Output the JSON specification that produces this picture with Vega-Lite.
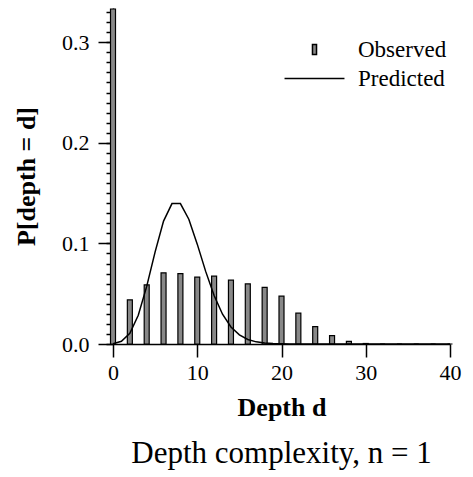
{
  "$schema": "https://vega.github.io/schema/vega-lite/v6.json",
  "width": 337,
  "height": 336,
  "autosize": {"type": "none"},
  "padding": {"left": 113, "top": 8, "right": 23, "bottom": 133},
  "background": "white",
  "config": {
    "view": {"stroke": null},
    "font": "Liberation Serif",
    "axis": {"grid": false, "domainColor": "black", "tickColor": "black", "labelColor": "black", "titleColor": "black", "domainWidth": 1.5, "tickWidth": 1.5, "labelFont": "Liberation Serif", "titleFont": "Liberation Serif"}
  },
  "title": {"text": "Depth complexity, n = 1", "orient": "bottom", "anchor": "middle", "fontSize": 31, "fontWeight": "normal", "font": "Liberation Serif", "color": "black", "offset": 19},
  "datasets": {
    "observed": [
      {"d": 0, "p": 0.333}, {"d": 2, "p": 0.0439}, {"d": 4, "p": 0.0588}, {"d": 6, "p": 0.0708},
      {"d": 8, "p": 0.0700}, {"d": 10, "p": 0.0664}, {"d": 12, "p": 0.0674}, {"d": 14, "p": 0.0634},
      {"d": 16, "p": 0.0598}, {"d": 18, "p": 0.0562}, {"d": 20, "p": 0.0475}, {"d": 22, "p": 0.0306},
      {"d": 24, "p": 0.0172}, {"d": 26, "p": 0.0083}, {"d": 28, "p": 0.0027}, {"d": 30, "p": 0.0005},
      {"d": 32, "p": 0}, {"d": 34, "p": 0}, {"d": 36, "p": 0}, {"d": 38, "p": 0}, {"d": 40, "p": 0}
    ],
    "predicted": [
      {"d": 0, "p": 0.00034}, {"d": 1, "p": 0.00268}, {"d": 2, "p": 0.01073}, {"d": 3, "p": 0.02863},
      {"d": 4, "p": 0.05725}, {"d": 5, "p": 0.0916}, {"d": 6, "p": 0.12214}, {"d": 7, "p": 0.13959},
      {"d": 8, "p": 0.13959}, {"d": 9, "p": 0.12408}, {"d": 10, "p": 0.09926}, {"d": 11, "p": 0.07219},
      {"d": 12, "p": 0.04813}, {"d": 13, "p": 0.02962}, {"d": 14, "p": 0.01692}, {"d": 15, "p": 0.00903},
      {"d": 16, "p": 0.00451}, {"d": 17, "p": 0.00212}, {"d": 18, "p": 0.00094}, {"d": 19, "p": 0.0004},
      {"d": 20, "p": 0.00016}, {"d": 21, "p": 0.00006}, {"d": 22, "p": 0.00002}, {"d": 23, "p": 0},
      {"d": 24, "p": 0}, {"d": 26, "p": 0}, {"d": 28, "p": 0}, {"d": 30, "p": 0}, {"d": 32, "p": 0},
      {"d": 34, "p": 0}, {"d": 36, "p": 0}, {"d": 38, "p": 0}, {"d": 40, "p": 0}
    ]
  },
  "layer": [
    {
      "data": {"name": "observed"},
      "mark": {"type": "bar", "size": 5, "stroke": "black", "strokeWidth": 1.2},
      "encoding": {
        "x": {"field": "d", "type": "quantitative", "scale": {"domain": [0, 40], "nice": false, "padding": 0},
          "axis": {"values": [0, 10, 20, 30, 40], "format": "d", "tickSize": 13, "labelFont": "Liberation Serif", "labelFontSize": 22, "labelPadding": 5, "labelFlush": false,
            "title": "Depth d", "titleFont": "Liberation Serif", "titleFontSize": 26, "titleFontWeight": "bold", "titlePadding": 11}},
        "y": {"field": "p", "type": "quantitative", "scale": {"domain": [0, 0.334], "nice": false, "zero": true},
          "axis": {"orient": "left", "values": [0, 0.1, 0.2, 0.3], "format": ".1f", "tickSize": 15, "labelFont": "Liberation Serif", "labelFontSize": 22, "labelPadding": 9,
            "title": "P[depth = d]", "titleFont": "Liberation Serif", "titleFontSize": 26, "titleFontWeight": "bold", "titlePadding": 22}},
        "fill": {"datum": "Observed", "type": "nominal",
          "scale": {"domain": ["Observed"], "range": ["#888888"]},
          "legend": {"title": null, "orient": "none", "legendX": 187, "legendY": 27, "padding": 0,
            "labelFont": "Liberation Serif", "labelFontSize": 23, "labelColor": "black", "labelOffset": 29,
            "symbolType": "M-0.15,-0.37H0.15V0.37H-0.15Z", "symbolSize": 729, "symbolStrokeColor": "black", "symbolStrokeWidth": 1.5, "symbolOpacity": 1}}
      }
    },
    {
      "data": {"name": "predicted"},
      "mark": {"type": "line", "strokeWidth": 1.5},
      "encoding": {
        "x": {"field": "d", "type": "quantitative"},
        "y": {"field": "p", "type": "quantitative",
          "axis": {"orient": "left", "values": [0, 0.01, 0.02, 0.03, 0.04, 0.05, 0.06, 0.07, 0.08, 0.09, 0.1, 0.11, 0.12, 0.13, 0.14, 0.15, 0.16, 0.17, 0.18, 0.19, 0.2, 0.21, 0.22, 0.23, 0.24, 0.25, 0.26, 0.27, 0.28, 0.29, 0.3, 0.31, 0.32, 0.33],
            "labels": false, "tickSize": 7, "domain": false, "title": null}},
        "stroke": {"datum": "Predicted", "type": "nominal",
          "scale": {"domain": ["Predicted"], "range": ["black"]},
          "legend": {"title": null, "orient": "none", "legendX": 187, "legendY": 56, "padding": 0,
            "labelFont": "Liberation Serif", "labelFontSize": 23, "labelColor": "black", "labelOffset": 29,
            "symbolType": "M-2.22,0H2.22", "symbolSize": 729, "symbolStrokeWidth": 1.5}}
      }
    }
  ],
  "resolve": {"axis": {"y": "independent"}}
}
